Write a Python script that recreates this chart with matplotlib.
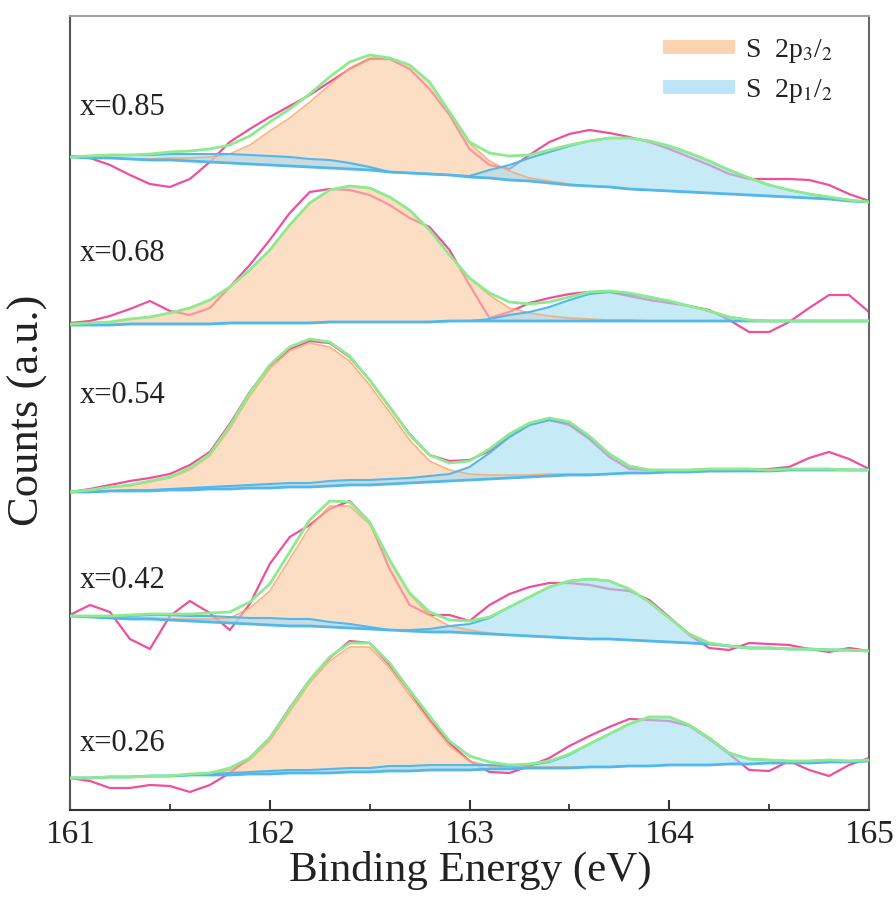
import numpy as np
import matplotlib
matplotlib.use("Agg")
import matplotlib.pyplot as plt
from matplotlib.lines import Line2D
from matplotlib.ticker import MultipleLocator

plt.rcParams['font.family'] = ['Liberation Serif', 'DejaVu Serif']
plt.rcParams['mathtext.fontset'] = 'stix'

# Binding energy grid (eV)
energy = np.round(np.arange(161.0, 165.0001, 0.1), 1)

samples = ["x=0.85", "x=0.68", "x=0.54", "x=0.42", "x=0.26"]
offsets = [653, 485, 318, 194, 32]          # vertical stacking offsets (a.u.)
label_y = [703, 557, 415, 230, 67]          # sample label heights (a.u.)

# ---- x = 0.85 ----
raw_085 = [1, -1, -8, -18, -27, -30, -22, -5, 15, 28, 40, 51, 62, 75, 88, 98, 98, 88, 68, 42,
           8, -8, -12, 2, 15, 23, 27, 24, 20, 15, 8, 0, -8, -17, -22, -22, -22, -23, -28, -37, -44]
bg_085 = [0, -1, -1, -2, -3, -3, -4, -5, -6, -7, -8, -9, -10, -11, -12, -13, -15, -16, -17, -18,
          -20, -21, -23, -24, -26, -28, -29, -30, -32, -33, -34, -35, -36, -37, -38, -39, -40, -41, -42, -44, -45]
p3_085 = [0, 0, 0, 0, 1, 2, 3, 5, 9, 19, 34, 48, 65, 83, 101, 112, 114, 108, 92, 63,
          34, 17, 9, 3, 2, 1, 0, 0, 0, 0, 0, 0, 0, 0, 0, 0, 0, 0, 0, 0, 0]
p1_085 = [0, 2, 3, 4, 5, 6, 7, 8, 9, 9, 9, 9, 8, 8, 6, 3, 0, 0, 0, 0,
          1, 8, 15, 23, 31, 39, 45, 49, 51, 49, 45, 39, 32, 24, 17, 11, 7, 4, 2, 1, 0]

# ---- x = 0.68 ----
raw_068 = [2, 4, 9, 16, 24, 14, 10, 17, 38, 60, 85, 112, 133, 136, 135, 130, 120, 107, 98, 75,
           40, 7, 13, 22, 27, 31, 33, 33, 29, 25, 22, 19, 15, 5, -7, -7, 3, 17, 30, 30, 13]
bg_068 = [0, 0, 0, 1, 1, 1, 1, 1, 2, 2, 2, 2, 2, 3, 3, 3, 3, 3, 3, 4,
          4, 4, 4, 4, 4, 4, 4, 4, 4, 4, 4, 4, 4, 4, 4, 4, 4, 4, 4, 4, 4]
p3_068 = [1, 2, 3, 5, 7, 11, 16, 24, 36, 53, 73, 98, 120, 132, 136, 134, 125, 112, 92, 66,
          43, 26, 13, 8, 5, 3, 2, 1, 1, 0, 0, 0, 0, 0, 0, 0, 0, 0, 0, 0, 0]
p1_068 = [0, 0, 0, 0, 0, 0, 0, 0, 0, 0, 0, 0, 0, 0, 0, 0, 0, 0, 0, 0,
          0, 2, 6, 9, 14, 21, 27, 29, 27, 24, 20, 15, 10, 4, 1, 0, 0, 0, 0, 0, 0]

# ---- x = 0.54 ----
raw_054 = [0, 3, 7, 11, 14, 18, 27, 40, 68, 100, 126, 143, 151, 149, 135, 112, 85, 58, 37, 31,
           32, 41, 55, 67, 72, 67, 53, 35, 23, 22, 21, 21, 21, 21, 22, 23, 25, 34, 40, 33, 23]
bg_054 = [0, 0, 1, 1, 1, 2, 2, 3, 3, 4, 4, 5, 5, 6, 7, 7, 8, 9, 10, 11,
          12, 13, 14, 15, 16, 17, 17, 18, 19, 19, 20, 20, 21, 21, 21, 21, 22, 22, 22, 22, 22]
p3_054 = [0, 2, 4, 5, 9, 12, 20, 33, 60, 92, 119, 136, 144, 139, 124, 100, 72, 43, 21, 11,
          6, 4, 3, 2, 2, 1, 1, 0, 0, 0, 0, 0, 0, 0, 0, 0, 0, 0, 0, 0, 0]
p1_054 = [0, 0, 0, 1, 1, 1, 2, 2, 3, 3, 4, 4, 4, 5, 5, 5, 5, 5, 6, 7,
          13, 26, 41, 52, 56, 52, 38, 20, 7, 3, 2, 2, 2, 2, 2, 1, 1, 1, 1, 0, 0]

# ---- x = 0.42 ----
raw_042 = [1, 11, 4, -23, -33, 0, 15, 3, -14, 12, 52, 79, 91, 107, 115, 94, 47, 11, 1, 1,
           -5, 11, 22, 29, 33, 33, 31, 27, 25, 16, -1, -19, -32, -34, -27, -28, -29, -33, -36, -32, -35]
bg_042 = [0, -1, -2, -3, -3, -4, -5, -6, -7, -8, -9, -10, -10, -11, -12, -13, -14, -15, -16, -16,
          -17, -18, -19, -20, -21, -22, -23, -23, -24, -25, -26, -27, -28, -30, -32, -32, -33, -33, -34, -34, -35]
p3_042 = [0, 0, 0, 1, 1, 1, 2, 3, 5, 16, 34, 67, 99, 121, 122, 105, 70, 37, 17, 6,
          3, 1, 0, 0, 0, 0, 0, 0, 0, 0, 0, 0, 0, 0, 0, 0, 0, 0, 0, 0, 0]
p1_042 = [0, 1, 2, 3, 4, 5, 5, 6, 6, 6, 7, 7, 7, 5, 4, 2, 0, 1, 3, 6,
          9, 16, 28, 39, 50, 57, 60, 58, 51, 39, 24, 9, 1, 0, 0, 0, 0, 0, 0, 0, 0]

# ---- x = 0.26 ----
raw_026 = [0, -3, -10, -10, -7, -8, -14, -7, 5, 20, 40, 70, 98, 120, 137, 135, 113, 87, 58, 35,
           17, 6, 5, 12, 20, 32, 42, 51, 59, 58, 57, 52, 39, 24, 8, 7, 17, 8, 2, 13, 20]
bg_026 = [0, 0, 1, 1, 2, 2, 3, 3, 3, 4, 4, 5, 5, 5, 6, 6, 7, 7, 8, 8,
          8, 9, 9, 10, 10, 10, 11, 11, 12, 12, 13, 13, 13, 14, 14, 15, 15, 15, 16, 16, 17]
p3_026 = [0, 0, 0, 0, 0, 0, 1, 1, 5, 14, 33, 61, 90, 112, 125, 125, 103, 76, 49, 24,
          9, 3, 1, 1, 1, 1, 0, 0, 0, 0, 0, 0, 0, 0, 0, 0, 0, 0, 0, 0, 0]
p1_026 = [0, 0, 0, 0, 0, 0, 0, 1, 2, 2, 3, 3, 3, 4, 4, 4, 5, 5, 5, 5,
          5, 4, 3, 3, 6, 13, 23, 33, 42, 49, 48, 40, 27, 11, 5, 3, 2, 2, 2, 1, 1]

series = [
    (raw_085, bg_085, p3_085, p1_085),
    (raw_068, bg_068, p3_068, p1_068),
    (raw_054, bg_054, p3_054, p1_054),
    (raw_042, bg_042, p3_042, p1_042),
    (raw_026, bg_026, p3_026, p1_026),
]

RAW_C = '#EF4F9B'
ENV_C = '#8EEA8E'
BG_C = '#52B8EA'
P3_FILL = '#FAC89D'
P1_FILL = '#A3DCF3'
P3_EDGE = '#F6A56A'

fig = plt.figure(figsize=(8.96, 9.05), dpi=100)
ax = fig.add_axes([70 / 896, 1 - 810 / 905, 799 / 896, 794.5 / 905])

for off, (raw, bg, p3, p1) in zip(offsets, series):
    raw = np.array(raw, float) + off
    bg = np.array(bg, float) + off
    p3 = np.array(p3, float)
    p1 = np.array(p1, float)
    top3 = bg + p3
    top1 = bg + p1
    env = bg + p3 + p1
    ax.plot(energy, raw, color=RAW_C, lw=1.6, zorder=2, solid_joinstyle='round')
    ax.fill_between(energy, bg, top3, color=P3_FILL, alpha=0.6, lw=0, zorder=3)
    ax.fill_between(energy, bg, top1, color=P1_FILL, alpha=0.6, lw=0, zorder=3)
    ax.plot(energy, top3, color=P3_EDGE, lw=1.2, alpha=0.8, zorder=4)
    ax.plot(energy, top1, color=BG_C, lw=1.5, zorder=4)
    ax.plot(energy, bg, color=BG_C, lw=2.0, zorder=5)
    ax.plot(energy, env, color=ENV_C, lw=2.0, zorder=6, solid_joinstyle='round')

for name, ly in zip(samples, label_y):
    ax.text(161.05, ly, name, fontsize=22, color='#222222', ha='left', va='center')

ax.set_xlim(161, 165)
ax.set_ylim(0, 794.5)
ax.set_xticks([161, 162, 163, 164, 165])
ax.xaxis.set_minor_locator(MultipleLocator(0.5))
ax.set_yticks([])
ax.tick_params(axis='x', which='major', direction='in', length=7, width=1.5,
               labelsize=24, pad=7, colors='#333333', labelcolor='#222222')
ax.tick_params(axis='x', which='minor', direction='in', length=4, width=1.3, colors='#333333')

for side, col in [('left', '#555555'), ('bottom', '#333333'), ('top', '#a0a0a0'), ('right', '#666666')]:
    ax.spines[side].set_color(col)
    ax.spines[side].set_linewidth(1.5)

fig.text(470 / 896, 1 - 870 / 905, 'Binding Energy (eV)', fontsize=31, color='#222222',
         ha='center', va='center')
fig.text(28 / 896, 1 - 410 / 905, 'Counts (a.u.)', fontsize=32, color='#222222',
         ha='center', va='center', rotation=90)

handles = [Line2D([], [], color='#FBD3B0', lw=10, solid_capstyle='butt'),
           Line2D([], [], color='#BCE5F7', lw=10, solid_capstyle='butt')]
labels = [r'S  2p$_3$/$_2$', r'S  2p$_1$/$_2$']
fig.legend(handles, labels, loc='upper left', bbox_to_anchor=(663 / 896, 1 - 37 / 905),
           frameon=False, fontsize=20, handlelength=2.6, handletextpad=0.35,
           labelspacing=0.42, borderpad=0, borderaxespad=0, labelcolor='#222222')

fig.savefig('out.png', dpi=100)
